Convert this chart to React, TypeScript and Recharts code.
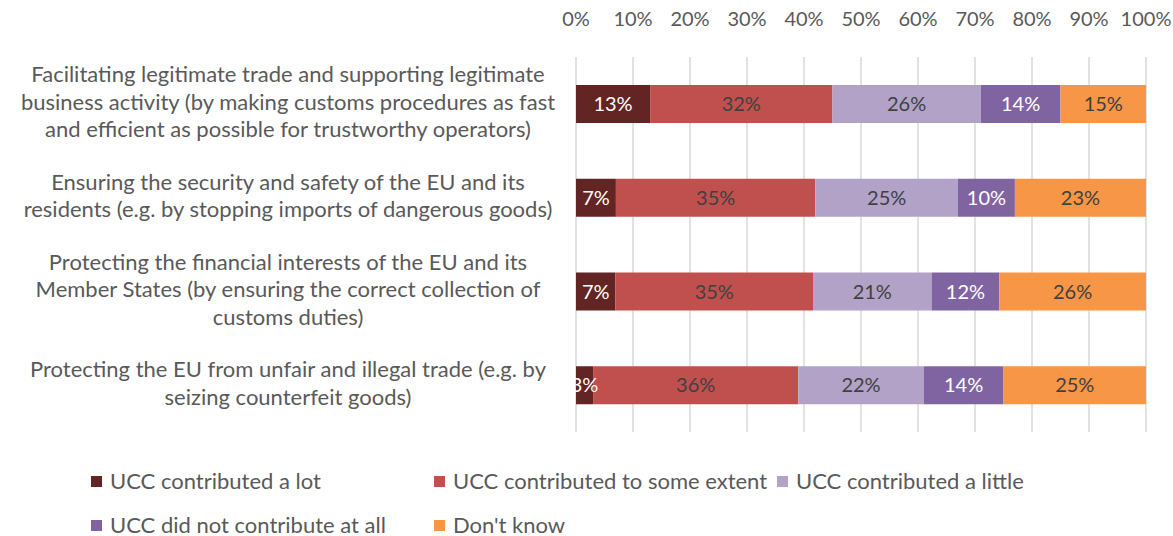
import { Bar, BarChart, CartesianGrid, LabelList, Legend, XAxis, YAxis } from "recharts";

const categories = [
  "Facilitating legitimate trade and supporting legitimate\nbusiness activity (by making customs procedures as fast\nand efficient as possible for trustworthy operators)",
  "Ensuring the security and safety of the EU and its\nresidents (e.g. by stopping imports of dangerous goods)",
  "Protecting the financial interests of the EU and its\nMember States (by ensuring the correct collection of\ncustoms duties)",
  "Protecting the EU from unfair and illegal trade (e.g. by\nseizing counterfeit goods)",
];
const contributedALot = [13, 7, 7, 3];
const toSomeExtent = [32, 35, 35, 36];
const aLittle = [26, 25, 21, 22];
const notAtAll = [14, 10, 12, 14];
const dontKnow = [15, 23, 26, 25];
const xTicks = [0, 0.1, 0.2, 0.3, 0.4, 0.5, 0.6, 0.7, 0.8, 0.9, 1];

const series = [
  { key: "lot", name: "UCC contributed a lot", color: "#632523", text: "#ffffff", values: contributedALot },
  { key: "some", name: "UCC contributed to some extent", color: "#C0504D", text: "#404040", values: toSomeExtent },
  { key: "little", name: "UCC contributed a little", color: "#B2A2C7", text: "#404040", values: aLittle },
  { key: "none", name: "UCC did not contribute at all", color: "#8064A2", text: "#ffffff", values: notAtAll },
  { key: "dk", name: "Don't know", color: "#F79646", text: "#404040", values: dontKnow },
];

const data = categories.map((c, i) => {
  const row: any = { name: c };
  series.forEach((s) => (row[s.key] = s.values[i]));
  return row;
});

const FONT = "Lato, 'Open Sans', sans-serif";

const CategoryTick = (props: any) => {
  const { y, payload } = props;
  const lines = String(payload.value).split("\n");
  const lh = 27.5;
  const start = y - 3 - ((lines.length - 1) * lh) / 2;
  return (
    <text x={288} y={start} textAnchor="middle" fill="#595959" fontSize={22} fontFamily={FONT} dominantBaseline="central">
      {lines.map((l, i) => (
        <tspan key={i} x={288} y={start + i * lh}>
          {l}
        </tspan>
      ))}
    </text>
  );
};

const LegendBox = () => (
  <div style={{ display: "flex", flexWrap: "wrap", width: 1060, paddingLeft: 91, rowGap: 18 }}>
    {series.map((s) => (
      <div
        key={s.key}
        style={{ width: 343, height: 26, lineHeight: "26px", display: "flex", alignItems: "center", fontFamily: FONT, fontSize: 22, color: "#595959" }}
      >
        <span style={{ display: "inline-block", width: 11, height: 11, background: s.color, marginRight: 8 }} />
        {s.name}
      </div>
    ))}
  </div>
);

export default function App() {
  return (
    <div style={{ position: "absolute", left: 0, top: 0, background: "#fff" }}>
      <BarChart
        width={1173}
        height={536}
        data={data}
        layout="vertical"
        stackOffset="expand"
        margin={{ top: 0, right: 27, left: 0, bottom: 34 }}
        barSize={38}
      >
        <CartesianGrid horizontal={false} stroke="#d9d9d9" strokeWidth={1.5} />
        <XAxis
          type="number"
          orientation="top"
          domain={[0, 1]}
          ticks={xTicks}
          tickFormatter={(v: number) => `${Math.round(v * 100)}%`}
          axisLine={false}
          tickLine={false}
          height={57}
          tickMargin={25}
          tick={{ fill: "#595959", fontSize: 20, fontFamily: FONT }}
          interval={0}
        />
        <YAxis
          type="category"
          dataKey="name"
          width={576}
          axisLine={false}
          tickLine={false}
          tick={<CategoryTick />}
          interval={0}
        />
        {series.map((s) => (
          <Bar key={s.key} dataKey={s.key} name={s.name} stackId="a" fill={s.color} isAnimationActive={false}>
            <LabelList
              dataKey={s.key}
              position="center"
              formatter={(v: any) => `${v}%`}
              fill={s.text}
              fontSize={20}
              fontFamily={FONT}
            />
          </Bar>
        ))}
        <Legend content={<LegendBox />} wrapperStyle={{ left: 0, top: 468 }} />
      </BarChart>
    </div>
  );
}
